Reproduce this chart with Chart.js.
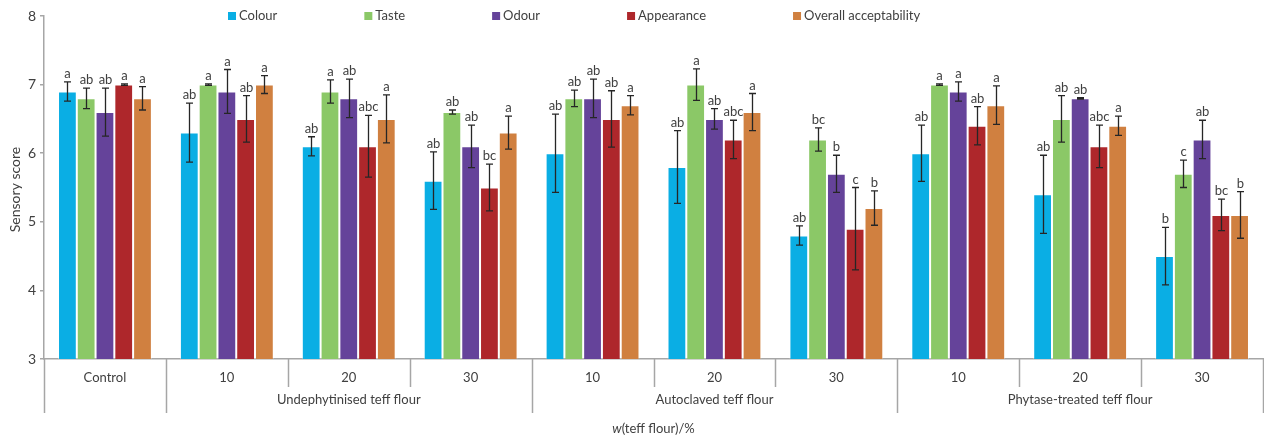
<!DOCTYPE html>
<html>
<head>
<meta charset="utf-8">
<script src="https://cdn.jsdelivr.net/npm/chart.js@4"></script>
<style>
  html, body { margin: 0; padding: 0; background: #fff; }
  #wrap { width: 1264px; height: 439px; }
</style>
</head>
<body>
<div id="wrap"><canvas id="sensory-chart" width="1264" height="439"></canvas></div>
<script>
// categories (subcategory labels) and groups under them
const categories = ['Control', '10', '20', '30', '10', '20', '30', '10', '20', '30'];
const groupLabels = ['', 'Undephytinised teff flour', 'Autoclaved teff flour', 'Phytase-treated teff flour'];
const groupSpans = [1, 3, 3, 3];

const seriesNames = ['Colour', 'Taste', 'Odour', 'Appearance', 'Overall acceptability'];
const seriesColors = ['#0AAEE4', '#8BC867', '#65439A', '#AE272B', '#D08040'];

// mean values
const colour     = [6.9, 6.3, 6.1, 5.6, 6.0, 5.8, 4.8, 6.0, 5.4, 4.5];
const taste      = [6.8, 7.0, 6.9, 6.6, 6.8, 7.0, 6.2, 7.0, 6.5, 5.7];
const odour      = [6.6, 6.9, 6.8, 6.1, 6.8, 6.5, 5.7, 6.9, 6.8, 6.2];
const appearance = [7.0, 6.5, 6.1, 5.5, 6.5, 6.2, 4.9, 6.4, 6.1, 5.1];
const overall    = [6.8, 7.0, 6.5, 6.3, 6.7, 6.6, 5.2, 6.7, 6.4, 5.1];

// standard deviations (half error bar)
const colourErr     = [0.14, 0.43, 0.14, 0.42, 0.57, 0.53, 0.14, 0.41, 0.57, 0.42];
const tasteErr      = [0.15, 0.01, 0.17, 0.03, 0.12, 0.23, 0.17, 0.01, 0.34, 0.20];
const odourErr      = [0.35, 0.32, 0.28, 0.31, 0.28, 0.15, 0.27, 0.14, 0.01, 0.28];
const appearanceErr = [0.01, 0.34, 0.45, 0.34, 0.41, 0.28, 0.60, 0.28, 0.31, 0.23];
const overallErr    = [0.17, 0.13, 0.35, 0.24, 0.14, 0.27, 0.25, 0.28, 0.14, 0.34];

// significance letters
const colourSig     = ['a', 'ab', 'ab', 'ab', 'ab', 'ab', 'ab', 'ab', 'ab', 'b'];
const tasteSig      = ['ab', 'a', 'a', 'ab', 'ab', 'a', 'bc', 'a', 'ab', 'c'];
const odourSig      = ['ab', 'a', 'ab', 'ab', 'ab', 'ab', 'b', 'a', 'ab', 'ab'];
const appearanceSig = ['a', 'ab', 'abc', 'bc', 'ab', 'abc', 'c', 'ab', 'abc', 'bc'];
const overallSig    = ['a', 'a', 'a', 'a', 'a', 'a', 'b', 'a', 'a', 'b'];

const yTicks = [3, 4, 5, 6, 7, 8];
const yTitle = 'Sensory score';

const values = [colour, taste, odour, appearance, overall];
const errors = [colourErr, tasteErr, odourErr, appearanceErr, overallErr];
const letters = [colourSig, tasteSig, odourSig, appearanceSig, overallSig];

const FONT = 'Lato, "Open Sans", sans-serif';
const TEXT = '#404040';
const AXIS = '#A6A6A6';

// error bars + letters above each bar
const errorBarPlugin = {
  id: 'errorBars',
  afterDatasetsDraw(chart) {
    const ctx = chart.ctx;
    const y = chart.scales.y;
    ctx.save();
    ctx.strokeStyle = '#262626';
    ctx.lineWidth = 1.3;
    ctx.font = '13px ' + FONT;
    ctx.fillStyle = TEXT;
    ctx.textAlign = 'center';
    ctx.textBaseline = 'alphabetic';
    chart.data.datasets.forEach((ds, i) => {
      const meta = chart.getDatasetMeta(i);
      meta.data.forEach((bar, j) => {
        const v = values[i][j], e = errors[i][j];
        const top = y.getPixelForValue(v + e);
        const bot = y.getPixelForValue(v - e);
        const x = Math.round(bar.x) + 0.5;
        ctx.beginPath();
        ctx.moveTo(x, top); ctx.lineTo(x, bot);
        ctx.moveTo(x - 3.5, top); ctx.lineTo(x + 3.5, top);
        ctx.moveTo(x - 3.5, bot); ctx.lineTo(x + 3.5, bot);
        ctx.stroke();
        ctx.fillText(letters[i][j], x, top - 4);
      });
    });
    ctx.restore();
  }
};

// multi level x axis, legend and y title
const decorPlugin = {
  id: 'decor',
  afterDraw(chart) {
    const ctx = chart.ctx;
    const area = chart.chartArea;
    const xs = chart.scales.x;
    const step = (area.right - area.left) / categories.length;
    const shortBottom = area.bottom + 28;
    const longBottom = area.bottom + 54;
    ctx.save();

    // separators
    ctx.strokeStyle = AXIS;
    ctx.lineWidth = 1.5;
    let bounds = [0];
    let acc = 0;
    groupSpans.forEach(s => { acc += s; bounds.push(acc); });
    for (let k = 0; k <= categories.length; k++) {
      const x = Math.round(area.left + k * step) + 0.5;
      const long = bounds.includes(k);
      ctx.beginPath();
      ctx.moveTo(x, area.bottom);
      ctx.lineTo(x, long ? longBottom : shortBottom);
      ctx.stroke();
    }

    // category labels
    ctx.fillStyle = TEXT;
    ctx.font = '13px ' + FONT;
    ctx.textAlign = 'center';
    ctx.textBaseline = 'middle';
    categories.forEach((c, k) => {
      ctx.fillText(c, xs.getPixelForValue(k), area.bottom + 19);
    });

    // group labels
    let start = 0;
    groupLabels.forEach((g, k) => {
      const end = start + groupSpans[k];
      const cx = area.left + ((start + end) / 2) * step;
      if (g) ctx.fillText(g, cx, area.bottom + 41);
      start = end;
    });

    // axis title: w(teff flour)/%
    ctx.textAlign = 'left';
    ctx.font = 'italic 13px ' + FONT;
    const wW = ctx.measureText('w').width;
    ctx.font = '13px ' + FONT;
    const rest = '(teff flour)/%';
    const restW = ctx.measureText(rest).width;
    const tx = (area.left + area.right) / 2 - (wW + restW) / 2;
    ctx.font = 'italic 13px ' + FONT;
    ctx.fillText('w', tx, area.bottom + 70);
    ctx.font = '13px ' + FONT;
    ctx.fillText(rest, tx + wW, area.bottom + 70);

    // y axis title
    ctx.save();
    ctx.translate(15, (area.top + area.bottom) / 2 + 2);
    ctx.rotate(-Math.PI / 2);
    ctx.textAlign = 'center';
    ctx.font = '14px ' + FONT;
    ctx.fillText(yTitle, 0, 0);
    ctx.restore();

    // legend
    ctx.font = '13px ' + FONT;
    ctx.textAlign = 'left';
    let lx = 228;
    seriesNames.forEach((name, i) => {
      ctx.fillStyle = seriesColors[i];
      ctx.fillRect(lx, 12, 8, 8);
      ctx.fillStyle = TEXT;
      ctx.fillText(name, lx + 11, 16);
      lx += 11 + ctx.measureText(name).width + 87;
    });
    ctx.restore();
  }
};

const ctx = document.getElementById('sensory-chart').getContext('2d');
new Chart(ctx, {
  type: 'bar',
  data: {
    labels: categories,
    datasets: seriesNames.map((name, i) => ({
      label: name,
      data: values[i],
      backgroundColor: seriesColors[i],
      borderColor: 'rgba(255,255,255,0.35)',
      borderWidth: 1,
      categoryPercentage: 0.77,
      barPercentage: 1.0
    }))
  },
  options: {
    responsive: false,
    animation: false,
    devicePixelRatio: 1,
    layout: { padding: { top: 16, right: 1, bottom: 80, left: 0 } },
    plugins: {
      legend: { display: false },
      tooltip: { enabled: false }
    },
    scales: {
      x: {
        grid: { display: false },
        ticks: { display: false },
        border: { display: true, color: AXIS, width: 1.5 },
        afterFit: s => { s.height = 0; }
      },
      y: {
        min: yTicks[0],
        max: yTicks[yTicks.length - 1],
        afterBuildTicks: s => { s.ticks = yTicks.map(v => ({ value: v })); },
        grid: { drawOnChartArea: false, drawTicks: true, tickLength: 4, color: AXIS, lineWidth: 1.5 },
        border: { display: true, color: AXIS, width: 1.5 },
        ticks: { color: TEXT, font: { family: FONT, size: 14 }, padding: 4 },
        afterFit: s => { s.width = 44; }
      }
    }
  },
  plugins: [errorBarPlugin, decorPlugin]
});
</script>
</body>
</html>
